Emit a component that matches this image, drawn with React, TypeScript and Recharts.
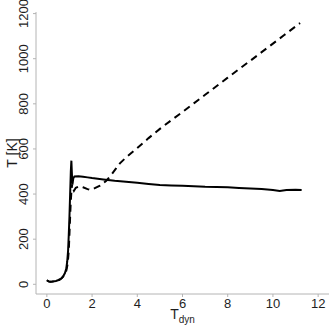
import { LineChart, Line, XAxis, YAxis } from 'recharts';

// solid curve
const solidTime = [0, 0.08, 0.15, 0.25, 0.4, 0.55, 0.65, 0.72, 0.8, 0.86, 0.9, 0.94, 0.97, 1.0, 1.03, 1.06, 1.085, 1.1, 1.12, 1.14, 1.17, 1.22, 1.4, 1.6, 1.8, 2.0, 2.5, 3.0, 3.5, 4.0, 4.5, 5.0, 5.5, 6.0, 6.5, 7.0, 7.5, 8.0, 8.5, 9.0, 9.5, 10.0, 10.3, 10.6, 11.0, 11.27];
const solidTemp = [18, 13, 11, 12, 15, 20, 27, 35, 50, 70, 100, 150, 220, 300, 400, 500, 548, 510, 460, 448, 470, 478, 479, 477, 474, 471, 465, 459, 455, 450, 445, 440, 438, 437, 435, 432, 431, 430, 427, 425, 422, 418, 414, 418, 419, 418];

// dashed curve
const dashTime = [0, 0.08, 0.15, 0.25, 0.4, 0.55, 0.65, 0.72, 0.8, 0.86, 0.92, 0.97, 1.01, 1.05, 1.09, 1.13, 1.16, 1.2, 1.28, 1.45, 1.6, 1.8, 1.95, 2.1, 2.35, 2.63, 2.85, 3.07, 3.22, 3.5, 4.0, 4.5, 5.0, 5.5, 6.0, 6.5, 7.0, 7.5, 8.0, 8.5, 9.0, 9.5, 10.0, 10.5, 11.0, 11.2];
const dashTemp = [18, 13, 11, 12, 15, 20, 27, 34, 45, 60, 90, 150, 250, 350, 420, 450, 425, 415, 428, 435, 430, 422, 418, 425, 437, 459, 485, 515, 535, 562, 604, 648, 689, 727, 764, 802, 840, 878, 916, 954, 991, 1029, 1067, 1105, 1143, 1158];

const xTicks = [0, 2, 4, 6, 8, 10, 12];
const yTicks = [0, 200, 400, 600, 800, 1000, 1200];

const solidData = solidTime.map((t, i) => ({ t, T: solidTemp[i] }));
const dashData = dashTime.map((t, i) => ({ t, T: dashTemp[i] }));

const FONT = '"Liberation Sans", Arial, sans-serif';
const FRAME = '#b4b4b4';
const INK = '#1e1e1e';

const XTick = ({ x, y, payload }: any) => (
  <text x={x} y={y + 9} textAnchor="middle" fontSize={13} fontFamily={FONT} fill={INK}>
    {payload.value}
  </text>
);

const YTick = ({ x, y, payload }: any) => (
  <text
    x={x - 2.5}
    y={y}
    transform={`rotate(-90, ${x - 2.5}, ${y})`}
    textAnchor="middle"
    fontSize={13}
    fontFamily={FONT}
    fill={INK}
  >
    {payload.value}
  </text>
);

export default function App() {
  return (
    <div style={{ position: 'absolute', left: 0, top: 0, background: '#fff' }}>
      <LineChart width={332} height={332} margin={{ top: 12, right: 3, left: 0, bottom: 0 }}>
        <XAxis
          dataKey="t"
          type="number"
          domain={[-0.48, 12.48]}
          ticks={xTicks}
          allowDataOverflow
          height={38}
          stroke={FRAME}
          tickSize={3}
          tick={<XTick />}
          label={{
            content: ({ viewBox }: any) => {
              const cx = viewBox.x + viewBox.width / 2;
              return (
                <text x={cx} y={319} textAnchor="middle" fontFamily={FONT} fill={INK} fontSize={14}>
                  <tspan>T</tspan>
                  <tspan fontSize={10} dy={4}>dyn</tspan>
                </text>
              );
            },
          }}
        />
        <XAxis xAxisId="top" orientation="top" type="number" domain={[-0.48, 12.48]} height={0} tick={false} tickLine={false} stroke={FRAME} />
        <YAxis
          type="number"
          domain={[-43, 1207]}
          ticks={yTicks}
          allowDataOverflow
          width={36}
          stroke={FRAME}
          tickSize={3}
          tick={<YTick />}
          label={{
            content: ({ viewBox }: any) => {
              const cy = viewBox.y + viewBox.height / 2;
              return (
                <text x={17} y={cy} transform={`rotate(-90, 17, ${cy})`} textAnchor="middle" fontFamily={FONT} fill={INK} fontSize={14}>
                  T [K]
                </text>
              );
            },
          }}
        />
        <YAxis yAxisId="right" orientation="right" type="number" domain={[-43, 1207]} width={0} tick={false} tickLine={false} stroke={FRAME} />
        <Line data={solidData} dataKey="T" type="linear" stroke="#000" strokeWidth={2} dot={false} isAnimationActive={false} />
        <Line data={dashData} dataKey="T" type="linear" stroke="#000" strokeWidth={2} strokeDasharray="7 5" dot={false} isAnimationActive={false} />
      </LineChart>
    </div>
  );
}
